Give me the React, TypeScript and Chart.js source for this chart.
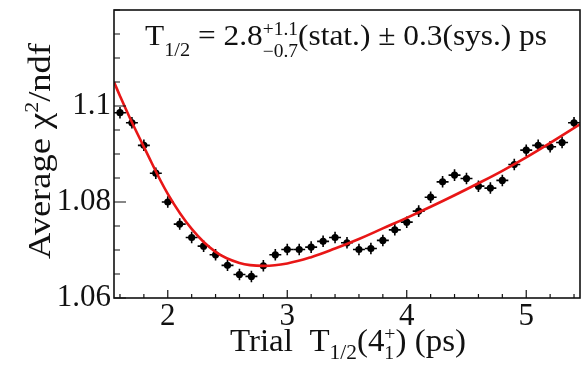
import React, { useEffect, useRef } from "react";
import { Chart, registerables } from "chart.js";

Chart.register(...registerables);

// ---- data ----
const trialT = [
  1.6, 1.7, 1.8, 1.9, 2.0, 2.1, 2.2, 2.3, 2.4, 2.5, 2.6, 2.7, 2.8, 2.9, 3.0, 3.1, 3.2, 3.3,
  3.4, 3.5, 3.6, 3.7, 3.8, 3.9, 4.0, 4.1, 4.2, 4.3, 4.4, 4.5, 4.6, 4.7, 4.8, 4.9, 5.0, 5.1,
  5.2, 5.3, 5.4,
];
const avgChi2 = [
  1.0986, 1.0965, 1.0918, 1.086, 1.08, 1.0754, 1.0726, 1.0708, 1.069, 1.0668, 1.0649, 1.0645,
  1.0667, 1.069, 1.0701, 1.0701, 1.0706, 1.0718, 1.0726, 1.0715, 1.0701, 1.0703, 1.072, 1.0742,
  1.0758, 1.0781, 1.081, 1.0842, 1.0856, 1.0849, 1.0833, 1.0829, 1.0845, 1.0878, 1.0908, 1.0918,
  1.0915, 1.0924, 1.0965,
];
const chi2Err = [
  0.0012, 0.0012, 0.0012, 0.0012, 0.0012, 0.0012, 0.0012, 0.0012, 0.0012, 0.0012, 0.0012, 0.0012,
  0.0012, 0.0012, 0.0012, 0.0012, 0.0012, 0.0012, 0.0012, 0.0012, 0.0012, 0.0012, 0.0012, 0.0012,
  0.0012, 0.0012, 0.0012, 0.0012, 0.0012, 0.0012, 0.0012, 0.0012, 0.0012, 0.0012, 0.0012, 0.0012,
  0.0012, 0.0012, 0.0012,
];
const binHalfWidth = [0.05];

const fitT = [1.55, 1.6, 1.7, 1.8, 2.0, 2.2, 2.4, 2.6, 2.8, 3.0, 3.2, 3.4, 3.6, 3.8, 4.0, 4.2, 4.4, 4.6, 4.8, 5.0, 5.2, 5.45];
const fitChi2 = [
  1.105, 1.1021, 1.0966, 1.0915, 1.0817, 1.0744, 1.0696, 1.0673, 1.0667, 1.0672, 1.0685, 1.0703,
  1.0723, 1.0745, 1.0767, 1.079, 1.0814, 1.0839, 1.0865, 1.0893, 1.0923, 1.0962,
];

const xRange = [1.55, 5.45];
const yRange = [1.06, 1.12];
const xTicks = [2, 3, 4, 5];
const xTickLabels = ["2", "3", "4", "5"];
const yTicks = [1.06, 1.08, 1.1];
const yTickLabels = ["1.06", "1.08", "1.1"];
const xMinorStep = 0.2;
const yMinorStep = 0.005;

const FONT = "'Liberation Serif', 'Times New Roman', serif";
const RED = "rgb(232,22,22)";
const INK = "#111";

type Piece = { t: string; k: number; dy: number };
type Item = Piece | { stack: Piece[] };

function pieceWidth(ctx: CanvasRenderingContext2D, base: number, p: Piece) {
  ctx.font = `${base * p.k}px ${FONT}`;
  return ctx.measureText(p.t).width;
}
function itemWidth(ctx: CanvasRenderingContext2D, base: number, it: Item): number {
  if ("stack" in it) return Math.max(...it.stack.map((p) => pieceWidth(ctx, base, p)));
  return pieceWidth(ctx, base, it);
}
function drawPiece(ctx: CanvasRenderingContext2D, base: number, p: Piece, x: number) {
  ctx.font = `${base * p.k}px ${FONT}`;
  ctx.fillText(p.t, x, p.dy);
}
function drawRich(
  ctx: CanvasRenderingContext2D,
  items: Item[],
  base: number,
  x: number,
  y: number,
  targetW: number,
  rot = 0
) {
  ctx.save();
  const total = items.reduce((s, it) => s + itemWidth(ctx, base, it), 0);
  ctx.translate(x, y);
  if (rot) ctx.rotate(rot);
  ctx.scale(targetW / total, 1);
  ctx.fillStyle = INK;
  ctx.textBaseline = "alphabetic";
  ctx.textAlign = "left";
  let cx = 0;
  for (const it of items) {
    const w = itemWidth(ctx, base, it);
    if ("stack" in it) it.stack.forEach((p) => drawPiece(ctx, base, p, cx));
    else drawPiece(ctx, base, it, cx);
    cx += w;
  }
  ctx.restore();
}

const legendItems: Item[] = [
  { t: "T", k: 1, dy: 0 },
  { t: "1/2", k: 0.65, dy: 11 },
  { t: " = 2.8", k: 1, dy: 0 },
  { stack: [ { t: "+1.1", k: 0.62, dy: -10 }, { t: "\u22120.7", k: 0.62, dy: 12 } ] },
  { t: "(stat.) \u00b1 0.3(sys.) ps", k: 1, dy: 0 },
];
const xTitleItems: Item[] = [
  { t: "Trial  T", k: 1, dy: 0 },
  { t: "1/2", k: 0.65, dy: 8 },
  { t: "(4", k: 1, dy: 0 },
  { stack: [ { t: "+", k: 0.6, dy: -11 }, { t: "1", k: 0.6, dy: 8 } ] },
  { t: ") (ps)", k: 1, dy: 0 },
];
const yTitleItems: Item[] = [
  { t: "Average ", k: 1, dy: 0 },
  { t: "\u03c7", k: 1, dy: 0 },
  { t: "2", k: 0.6, dy: -12 },
  { t: "/ndf", k: 1, dy: 0 },
];

const decorPlugin = {
  id: "decor",
  beforeDatasetsDraw(chart: any) {
    const ctx = chart.ctx as CanvasRenderingContext2D;
    const xs = chart.scales.x;
    const ys = chart.scales.y;
    const a = chart.chartArea;
    ctx.save();
    ctx.beginPath();
    ctx.rect(a.left, a.top, a.right - a.left, a.bottom - a.top);
    ctx.clip();
    ctx.strokeStyle = "#000";
    ctx.lineWidth = 1.6;
    const hw = binHalfWidth[0];
    trialT.forEach((t, i) => {
      const px = xs.getPixelForValue(t);
      const py = ys.getPixelForValue(avgChi2[i]);
      ctx.beginPath();
      ctx.moveTo(xs.getPixelForValue(t - hw), py);
      ctx.lineTo(xs.getPixelForValue(t + hw), py);
      ctx.moveTo(px, ys.getPixelForValue(avgChi2[i] - chi2Err[i]));
      ctx.lineTo(px, ys.getPixelForValue(avgChi2[i] + chi2Err[i]));
      ctx.stroke();
    });
    ctx.restore();
  },
  afterDraw(chart: any) {
    const ctx = chart.ctx as CanvasRenderingContext2D;
    const xs = chart.scales.x;
    const ys = chart.scales.y;
    const a = chart.chartArea;
    ctx.save();
    ctx.strokeStyle = "#111";
    ctx.lineWidth = 1.6;
    ctx.strokeRect(a.left, a.top, a.right - a.left, a.bottom - a.top);
    ctx.lineWidth = 1.2;
    ctx.beginPath();
    const x0 = Math.ceil((xRange[0] - 1e-9) / xMinorStep) * xMinorStep;
    for (let v = x0; v <= xRange[1] + 1e-9; v += xMinorStep) {
      const major = Math.abs(v - Math.round(v)) < 1e-6;
      const px = xs.getPixelForValue(v);
      ctx.moveTo(px, a.bottom);
      ctx.lineTo(px, a.bottom - (major ? 8 : 4));
    }
    const y0 = Math.ceil((yRange[0] - 1e-9) / yMinorStep) * yMinorStep;
    for (let v = y0; v <= yRange[1] + 1e-9; v += yMinorStep) {
      const major = yTicks.some((t) => Math.abs(t - v) < 1e-7);
      const py = ys.getPixelForValue(v);
      ctx.moveTo(a.left, py);
      ctx.lineTo(a.left + (major ? 12 : 6), py);
    }
    ctx.stroke();
    ctx.restore();

    drawRich(ctx, legendItems, 29, 145, 45, 402);
    drawRich(ctx, xTitleItems, 31, 230, 351, 236);
    drawRich(ctx, yTitleItems, 31, 50, 259, 216, -Math.PI / 2);
  },
};

export default function App() {
  const ref = useRef<HTMLCanvasElement | null>(null);
  useEffect(() => {
    if (!ref.current) return;
    const chart = new Chart(ref.current, {
      data: {
        datasets: [
          {
            type: "line",
            label: "fit",
            data: fitT.map((x, i) => ({ x, y: fitChi2[i] })),
            borderColor: RED,
            borderWidth: 2.6,
            pointRadius: 0,
            tension: 0.4,
            fill: false,
            order: 0,
          },
          {
            type: "scatter",
            label: "data",
            data: trialT.map((x, i) => ({ x, y: avgChi2[i] })),
            pointRadius: 3.6,
            backgroundColor: "#000",
            borderColor: "#000",
            borderWidth: 0,
            order: 1,
          },
        ],
      } as any,
      options: {
        animation: false,
        responsive: false,
        devicePixelRatio: 1,
        layout: { padding: { left: 0, right: 7, top: 10, bottom: 0 } },
        plugins: { legend: { display: false }, tooltip: { enabled: false } },
        scales: {
          x: {
            type: "linear",
            min: xRange[0],
            max: xRange[1],
            grid: { display: false, drawTicks: false },
            border: { display: false },
            ticks: {
              font: { family: FONT, size: 31 },
              color: INK,
              padding: 0,
              maxRotation: 0,
              autoSkip: false,
              callback: (v: any) => {
                const i = xTicks.findIndex((t) => Math.abs(t - v) < 1e-9);
                return i >= 0 ? xTickLabels[i] : "";
              },
            },
            afterBuildTicks: (s: any) => {
              s.ticks = xTicks.map((value) => ({ value }));
            },
            afterFit: (s: any) => {
              s.height = 73;
              s.paddingLeft = 0;
              s.paddingRight = 0;
              s.paddingTop = 0;
              s.paddingBottom = 0;
            },
          },
          y: {
            type: "linear",
            min: yRange[0],
            max: yRange[1],
            grid: { display: false, drawTicks: false },
            border: { display: false },
            ticks: {
              font: { family: FONT, size: 31 },
              color: INK,
              padding: 3,
              autoSkip: false,
              callback: (v: any) => {
                const i = yTicks.findIndex((t) => Math.abs(t - v) < 1e-9);
                return i >= 0 ? yTickLabels[i] : "";
              },
            },
            afterBuildTicks: (s: any) => {
              s.ticks = yTicks.map((value) => ({ value }));
            },
            afterFit: (s: any) => {
              s.width = 114;
              s.paddingLeft = 0;
              s.paddingRight = 0;
              s.paddingTop = 0;
              s.paddingBottom = 0;
            },
          },
        },
      } as any,
      plugins: [decorPlugin],
    });
    return () => chart.destroy();
  }, []);
  return (
    <div style={{ position: "fixed", left: 0, top: 0, width: 587, height: 371, background: "#fff" }}>
      <canvas ref={ref} width={587} height={371} style={{ width: 587, height: 371, display: "block" }} />
    </div>
  );
}
